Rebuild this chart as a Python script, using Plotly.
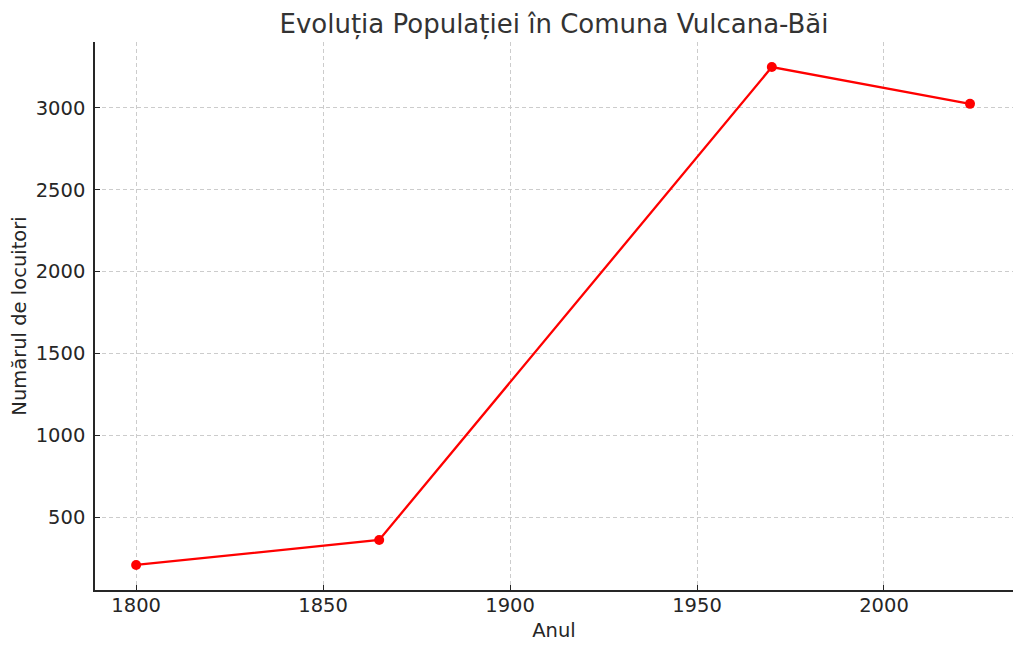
import plotly.graph_objects as go

# %% Date
ani = [1800, 1865, 1970, 2023]
locuitori = [207, 360, 3250, 3025]

titlu = 'Evoluția Populației în Comuna Vulcana-Băi'

# %% Grafic
# pagina are o margine de 8px, asa ca figura e mai mica cu 8px
fig = go.Figure()
fig.add_trace(go.Scatter(
    x=ani, y=locuitori, mode='lines+markers',
    line=dict(color='#ff0000', width=2.3),
    marker=dict(color='#ff0000', size=10),
))

fig.update_layout(
    width=1016, height=645,
    margin=dict(l=87, r=11, t=34, b=63),
    paper_bgcolor='white', plot_bgcolor='white',
    font=dict(family='DejaVu Sans', color='#262626', size=19.5),
    title=dict(text=titlu, xref='paper', x=0.5, xanchor='center', y=1 - 16 / 645, yanchor='middle',
               font=dict(size=26, color='#333333')),
    showlegend=False,
)
fig.update_xaxes(
    range=[1789, 2034.5], tickvals=[1800, 1850, 1900, 1950, 2000],
    title=dict(text='Anul', font=dict(size=19.5), standoff=7),
    showgrid=True, gridcolor='#cccccc', griddash='4px,3px', gridwidth=1,
    showline=True, linecolor='#262626', linewidth=1.5,
    ticks='inside', ticklen=5, tickcolor='#262626', zeroline=False,
    ticklabelstandoff=-3, automargin=False,
)
fig.update_yaxes(
    range=[54, 3403], tickvals=[500, 1000, 1500, 2000, 2500, 3000],
    title=dict(text='Numărul de locuitori', font=dict(size=19.5), standoff=8),
    showgrid=True, gridcolor='#cccccc', griddash='4px,3px', gridwidth=1,
    showline=True, linecolor='#262626', linewidth=1.5,
    ticks='inside', ticklen=5, tickcolor='#262626', zeroline=False,
    ticklabelstandoff=4, automargin=False,
)

fig.write_html('out.html')
